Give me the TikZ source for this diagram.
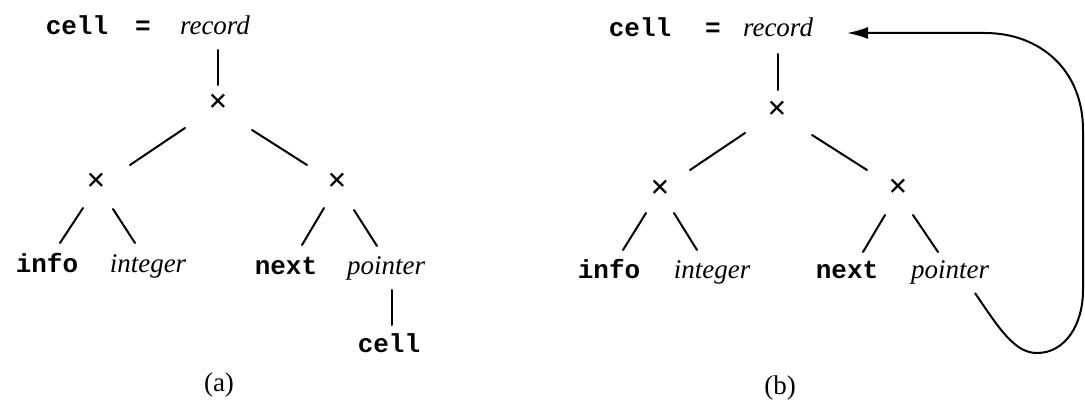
\documentclass[tikz,border=0pt]{standalone}
\usepackage{fontspec}
\setmainfont{Liberation Serif}
\setmonofont{Liberation Mono}
\usetikzlibrary{arrows.meta}
\tikzset{
  mono/.style={inner sep=0pt, anchor=base, font=\fontsize{26}{30}\selectfont\ttfamily\bfseries},
  ital/.style={inner sep=0pt, anchor=base, font=\fontsize{27}{30}\selectfont\itshape},
  upr/.style={inner sep=0pt, anchor=base, font=\fontsize{27}{30}\selectfont},
  prod/.style={inner sep=0pt, anchor=base, font=\fontsize{34}{36}\selectfont\bfseries},
  edge/.style={line width=2pt, line cap=round},
  back/.style={line width=2pt, -{Latex[length=21pt,width=12pt]}}
}
\begin{document}
\begin{tikzpicture}[x=1pt,y=-1pt]
\useasboundingbox (0,0) rectangle (1085,401);
% ---------- (a) ----------
\node[mono] (cellA) at (77,35) {cell};
\node[mono] (eqA) at (143,35) {=};
\node[ital] (recA) at (215,35) {record};
\node[prod] (xA) at (218,113) {×};
\node[prod] (xAL) at (96,192) {×};
\node[prod] (xAR) at (337,192) {×};
\node[mono] (infoA) at (47,272) {info};
\node[ital] (intA) at (148,272) {integer};
\node[mono] (nextA) at (286,274) {next};
\node[ital] (ptrA) at (386,274) {pointer};
\node[mono] (cellA2) at (389,352) {cell};
\node[upr] (capA) at (219,391) {(a)};
\draw[edge] ([shift={(3,15)}]recA.base) -- ([shift={(0,-28)}]xA.base);
\draw[edge] ([shift={(-33,15)}]xA.base) -- ([shift={(34,-27)}]xAL.base);
\draw[edge] ([shift={(34,17)}]xA.base) -- ([shift={(-30,-27)}]xAR.base);
\draw[edge] ([shift={(-13,16)}]xAL.base) -- ([shift={(13,-29)}]infoA.base);
\draw[edge] ([shift={(17,17)}]xAL.base) -- ([shift={(-13,-29)}]intA.base);
\draw[edge] ([shift={(-13,16)}]xAR.base) -- ([shift={(16,-29)}]nextA.base);
\draw[edge] ([shift={(17,18)}]xAR.base) -- ([shift={(-9,-28)}]ptrA.base);
\draw[edge] ([shift={(6,16)}]ptrA.base) -- ([shift={(3,-27)}]cellA2.base);
% ---------- (b) ----------
\node[mono] (cellB) at (640,37) {cell};
\node[mono] (eqB) at (713,37) {=};
\node[ital] (recB) at (778,37) {record};
\node[prod] (xB) at (777,120) {×};
\node[prod] (xBL) at (660,198) {×};
\node[prod] (xBR) at (898,197) {×};
\node[mono] (infoB) at (609,278) {info};
\node[ital] (intB) at (712,278) {integer};
\node[mono] (nextB) at (847,278) {next};
\node[ital] (ptrB) at (950,278) {pointer};
\node[upr] (capB) at (780,394) {(b)};
\draw[edge] ([shift={(0,17)}]recB.base) -- ([shift={(1,-30)}]xB.base);
\draw[edge] ([shift={(-32,13)}]xB.base) -- ([shift={(30,-28)}]xBL.base);
\draw[edge] ([shift={(35,15)}]xB.base) -- ([shift={(-31,-27)}]xBR.base);
\draw[edge] ([shift={(-14,15)}]xBL.base) -- ([shift={(14,-28)}]infoB.base);
\draw[edge] ([shift={(14,15)}]xBL.base) -- ([shift={(-15,-28)}]intB.base);
\draw[edge] ([shift={(-13,18)}]xBR.base) -- ([shift={(16,-26)}]nextB.base);
\draw[edge] ([shift={(15,18)}]xBR.base) -- ([shift={(-12,-26)}]ptrB.base);
\draw[back] ([shift={(25,15)}]ptrB.base)
   .. controls (1000,330) and (1015,353) .. (1037,353)
   .. controls (1065,353) and (1083,325) .. (1083,290)
   -- (1083,130)
   .. controls (1083,70) and (1040,33) .. (985,33)
   -- ([shift={(69,-4)}]recB.base);
\end{tikzpicture}
\end{document}
